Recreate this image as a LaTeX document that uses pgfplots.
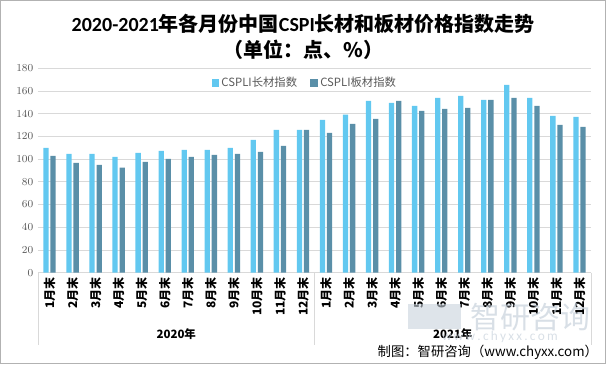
\documentclass[border=0pt]{standalone}
\usepackage{pgfplots}
\pgfplotsset{compat=1.18}
\usetikzlibrary{calc}
\usepackage{fontspec}
\setmainfont{Carlito}
\newfontfamily\cjk{Noto Sans CJK SC}
\definecolor{lightbar}{RGB}{98,200,240}
\definecolor{darkbar}{RGB}{90,143,168}
\definecolor{ticktext}{RGB}{89,89,89}
\definecolor{gridc}{RGB}{217,217,217}
\definecolor{wm}{RGB}{200,210,220}
\begin{document}
\begin{tikzpicture}
\begin{axis}[
  name=ax,
  scale only axis, width=414.75pt, height=153.3pt,
  xmin=-0.5, xmax=23.5, ymin=0, ymax=180,
  ytick={0,20,...,180},
  xtick={0,...,23},
  xticklabels={1月末,2月末,3月末,4月末,5月末,6月末,7月末,8月末,9月末,10月末,11月末,12月末,1月末,2月末,3月末,4月末,5月末,6月末,7月末,8月末,9月末,10月末,11月末,12月末},
  xticklabel style={rotate=90, anchor=east, font=\cjk\bfseries\fontsize{9}{10}\selectfont, text=black},
  yticklabel style={font=\fontsize{8.5}{10}\selectfont, text=ticktext},
  major tick length=0pt,
  ymajorgrids, grid style={gridc, line width=0.6pt},
  axis x line*=bottom, axis y line*=left,
  x axis line style={gridc, line width=0.6pt, -},
  y axis line style={draw=none},
  ybar, bar width=0.23,
  legend style={at={(0.483,0.928)}, anchor=center, draw=none, fill=none,
     legend columns=2, font=\cjk\fontsize{8.5}{10}\selectfont, text=ticktext,
     /tikz/every even column/.append style={column sep=8pt}},
  legend image code/.code={\fill[#1] (0pt,-2.7pt) rectangle (5.4pt,2.7pt);},
  clip=false,
]
\addplot[fill=lightbar, draw=none, bar shift=-0.155] coordinates {
(0,110) (1,104.6) (2,104.6) (3,101.9) (4,105.5) (5,107.2) (6,108.1) (7,108.1) (8,109.9) (9,116.9) (10,125.7) (11,125.7)
(12,134.5) (13,139.2) (14,151.3) (15,149.5) (16,146.9) (17,153.9) (18,155.7) (19,152.2) (20,165.4) (21,153.9) (22,138.1) (23,137.2)};
\addplot[fill=darkbar, draw=none, bar shift=0.155] coordinates {
(0,102.8) (1,96.7) (2,94.9) (3,92.5) (4,97.5) (5,100.2) (6,101.9) (7,103.7) (8,104.6) (9,106.3) (10,111.6) (11,125.7)
(12,123.1) (13,131.0) (14,135.4) (15,151.3) (16,142.5) (17,144.2) (18,145.1) (19,152.2) (20,153.9) (21,146.9) (22,130.1) (23,128.4)};
\legend{CSPLI长材指数, CSPLI板材指数}
\draw[gridc, line width=0.6pt] (axis cs:-0.5,0) -- ++(0pt,-54pt);
\draw[gridc, line width=0.6pt] (axis cs:11.5,0) -- ++(0pt,-54pt);
\draw[gridc, line width=0.6pt] (axis cs:23.5,0) -- ++(0pt,-54pt);
\node[font=\cjk\bfseries\fontsize{8.6}{10}\selectfont] at (axis cs:5.5,0) [yshift=-46pt] {2020年};
\node[font=\cjk\bfseries\fontsize{8.6}{10}\selectfont] at (axis cs:17.5,0) [yshift=-46pt] {2021年};
\end{axis}
\coordinate (O) at ($(ax.south west)+(-28.5pt,-68.5pt)$);
% title
\node[font=\fontsize{15}{18}\selectfont] at ($(O)+(227.5pt,255pt)$) {\bfseries 2020-2021{\cjk\bfseries 年各月份中国}CSPI{\cjk\bfseries 长材和板材价格指数走势}};
\node[font=\cjk\bfseries\fontsize{15}{18}\selectfont] at ($(O)+(227.5pt,236pt)$) {（单位：点、\%）};
% watermark
\node[text=wm, opacity=0.7, font=\cjk\fontsize{22.5}{23}\selectfont] at ($(O)+(397.5pt,35pt)$) {智研咨询};
\node[text=wm, opacity=0.7, font=\fontsize{10}{10}\selectfont] at ($(O)+(375pt,20pt)$) {w\,w\,w\,.\,c\,h\,y\,x\,x\,.\,c\,o\,m};
\fill[wm, opacity=0.6] ($(O)+(306pt,26pt)$) rectangle ($(O)+(346pt,45pt)$);
% footer
\node[anchor=east, font=\cjk\fontsize{10}{12}\selectfont] at ($(O)+(452pt,9pt)$) {制图：智研咨询（www.chyxx.com）};
\draw[gray!60, line width=0.8pt] ($(O)+(0.4pt,0.4pt)$) rectangle ($(O)+(454.1pt,272.6pt)$);
\pgfresetboundingbox
\path[use as bounding box] (O) rectangle ($(O)+(454.5pt,273pt)$);
\end{tikzpicture}
\end{document}
